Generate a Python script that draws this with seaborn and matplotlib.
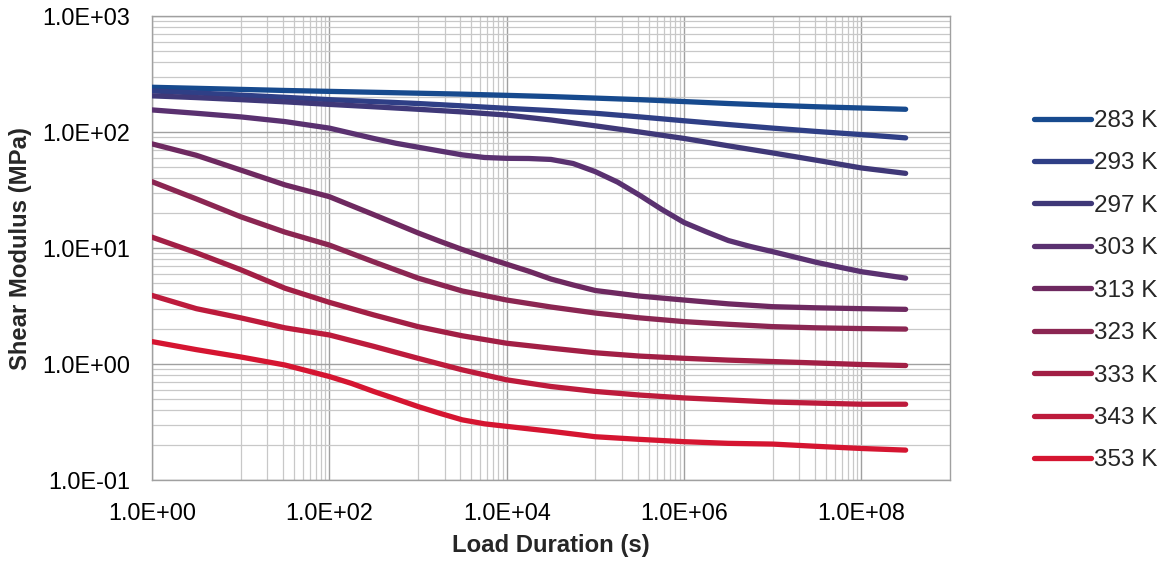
import numpy as np
import pandas as pd
import matplotlib
matplotlib.use("Agg")
import matplotlib.pyplot as plt
from matplotlib.ticker import FixedLocator, FuncFormatter, NullFormatter
import seaborn as sns

# ---------------------------------------------------------------------------
# Shear modulus master curves (MPa) vs. load duration (s) at nine temperatures
# ---------------------------------------------------------------------------
temperatures = ["283 K", "293 K", "297 K", "303 K", "313 K",
                "323 K", "333 K", "343 K", "353 K"]
line_colors = ["#174a8e", "#2f3f86", "#3f3878", "#5a3170", "#6e2960",
               "#8b2652", "#a21f45", "#bd1b3c", "#d51531"]

# load durations at half-decade steps, 1 s ... 3.16e8 s
durations = [1, 3.16, 10, 31.6, 100, 316, 1e3, 3.16e3, 1e4, 3.16e4,
             1e5, 3.16e5, 1e6, 3.16e6, 1e7, 3.16e7, 1e8, 3.16e8]

g_283 = [243, 238, 233, 228, 224, 220, 216, 212, 207, 202,
         196, 190, 183, 176, 170, 165, 161, 157]
g_293 = [226, 217, 208, 199, 190, 183, 176, 168, 160, 153,
         145, 135, 125, 116, 108, 101, 95, 89]
g_297 = [205, 198, 190, 182, 173, 165, 157, 149, 140, 127,
         113, 100, 88, 76, 66, 57, 49, 44]
g_323 = [37.3, 26.5, 18.6, 13.7, 10.6, 7.6, 5.5, 4.26, 3.56, 3.1,
         2.75, 2.5, 2.32, 2.2, 2.1, 2.05, 2.02, 2.0]
g_333 = [12.4, 9.1, 6.5, 4.5, 3.4, 2.65, 2.1, 1.75, 1.51, 1.37,
         1.25, 1.17, 1.12, 1.08, 1.05, 1.02, 0.99, 0.97]
g_343 = [3.9, 3.0, 2.5, 2.05, 1.78, 1.42, 1.12, 0.89, 0.73, 0.64,
         0.58, 0.54, 0.51, 0.49, 0.47, 0.46, 0.45, 0.45]

# the more strongly curved series are sampled every quarter decade
# through their bends
durations_303 = [1, 3.16, 10, 31.6, 100, 316, 562, 1e3, 1.78e3, 3.16e3,
                 5.62e3, 1e4, 1.78e4, 3.16e4, 5.62e4, 1e5, 1.78e5, 3.16e5,
                 5.62e5, 1e6, 1.78e6, 3.16e6, 5.62e6, 1e7, 3.16e7, 1e8,
                 3.16e8]
g_303 = [155, 145, 135, 123, 108, 88, 80, 74, 68.5, 63.5,
         60.3, 59.3, 59.1, 58, 53.5, 45.5, 37, 28.5,
         21.5, 16.6, 13.8, 11.6, 10.3, 9.3, 7.5, 6.25,
         5.5]

durations_313 = [1, 3.16, 10, 31.6, 100, 316, 562, 1e3, 1.78e3, 3.16e3,
                 5.62e3, 1e4, 1.78e4, 3.16e4, 5.62e4, 1e5, 3.16e5, 1e6,
                 3.16e6, 1e7, 3.16e7, 1e8, 3.16e8]
g_313 = [79, 63, 47, 35, 27.7, 19.4, 16.2, 13.5, 11.4, 9.7,
         8.35, 7.25, 6.3, 5.4, 4.8, 4.3, 3.85, 3.56,
         3.3, 3.12, 3.05, 3.0, 2.96]

durations_353 = [1, 3.16, 10, 31.6, 100, 178, 316, 562, 1e3, 1.78e3,
                 3.16e3, 5.62e3, 1e4, 3.16e4, 1e5, 3.16e5, 1e6, 3.16e6,
                 1e7, 3.16e7, 1e8, 3.16e8]
g_353 = [1.56, 1.33, 1.15, 0.98, 0.78, 0.68, 0.58, 0.5, 0.43, 0.375,
         0.33, 0.305, 0.29, 0.263, 0.236, 0.224, 0.214, 0.207,
         0.204, 0.195, 0.187, 0.181]

series = {
    "283 K": (durations, g_283),
    "293 K": (durations, g_293),
    "297 K": (durations, g_297),
    "303 K": (durations_303, g_303),
    "313 K": (durations_313, g_313),
    "323 K": (durations, g_323),
    "333 K": (durations, g_333),
    "343 K": (durations, g_343),
    "353 K": (durations_353, g_353),
}

frames = [pd.DataFrame({"Load Duration (s)": t, "Shear Modulus (MPa)": g,
                        "Temperature": name})
          for name, (t, g) in series.items()]
df = pd.concat(frames, ignore_index=True)

# ---------------------------------------------------------------------------
sns.set_style("white")
plt.rcParams["font.family"] = ["Liberation Sans", "DejaVu Sans"]

fig = plt.figure(figsize=(11.66, 5.63), dpi=100)
ax = fig.add_axes([152 / 1166, 83 / 563, 798 / 1166, 464 / 563])

sns.lineplot(data=df, x="Load Duration (s)", y="Shear Modulus (MPa)",
             hue="Temperature", hue_order=temperatures,
             palette=dict(zip(temperatures, line_colors)),
             estimator=None, sort=False, linewidth=3.8,
             solid_capstyle="round", solid_joinstyle="round",
             ax=ax, legend=True, zorder=3)

ax.set_xscale("log")
ax.set_yscale("log")
ax.set_xlim(1, 1e9)
ax.set_ylim(0.1, 1000)

# x: labelled ticks every two decades, light grid at 1..9 x 10^odd
x_major = [1e0, 1e2, 1e4, 1e6, 1e8]
x_minor = [k * 10.0 ** e for e in (1, 3, 5, 7) for k in range(1, 10)]
ax.xaxis.set_major_locator(FixedLocator(x_major))
ax.xaxis.set_minor_locator(FixedLocator(x_minor))
# y: every decade labelled, 2..9 minor grid
y_major = [0.1, 1, 10, 100, 1000]
y_minor = [k * 10.0 ** e for e in (-1, 0, 1, 2) for k in range(2, 10)]
ax.yaxis.set_major_locator(FixedLocator(y_major))
ax.yaxis.set_minor_locator(FixedLocator(y_minor))

sci = FuncFormatter(lambda v, _: f"{v:.1E}")
ax.xaxis.set_major_formatter(sci)
ax.yaxis.set_major_formatter(sci)
ax.xaxis.set_minor_formatter(NullFormatter())
ax.yaxis.set_minor_formatter(NullFormatter())

ax.grid(which="major", color="#a0a0a0", linewidth=1.0, zorder=0)
ax.grid(which="minor", color="#c8c8c8", linewidth=0.9, zorder=0)
ax.set_axisbelow(True)

for side in ("left", "bottom", "top", "right"):
    ax.spines[side].set_visible(True)
    ax.spines[side].set_color("#a0a0a0")
    ax.spines[side].set_linewidth(1.0)

ax.tick_params(axis="both", which="major", direction="out", length=5,
               width=1.0, color="#a0a0a0", labelsize=16.8, labelcolor="black")
ax.tick_params(axis="x", which="major", pad=10.5)
ax.tick_params(axis="y", which="major", pad=11)
ax.tick_params(axis="both", which="minor", length=0)

ax.set_xlabel("Load Duration (s)", fontsize=17.2, fontweight="bold")
ax.set_ylabel("Shear Modulus (MPa)", fontsize=17.2, fontweight="bold")
ax.xaxis.set_label_coords(0.5, -0.117)
ax.yaxis.set_label_coords(-0.150, 0.5)

# legend on the right, outside the plotting area
handles, labels = ax.get_legend_handles_labels()
leg = ax.legend(handles, labels, loc="upper left",
                bbox_to_anchor=(1034 / 1166, 1 - 110 / 563),
                bbox_transform=fig.transFigure, frameon=False,
                fontsize=17.5, handlelength=2.35, handletextpad=0.12,
                labelspacing=0.84, borderpad=0, borderaxespad=0)
for line in leg.get_lines():
    line.set_linewidth(3.8)
    line.set_solid_capstyle("round")

fig.savefig("out.png", dpi=100)
